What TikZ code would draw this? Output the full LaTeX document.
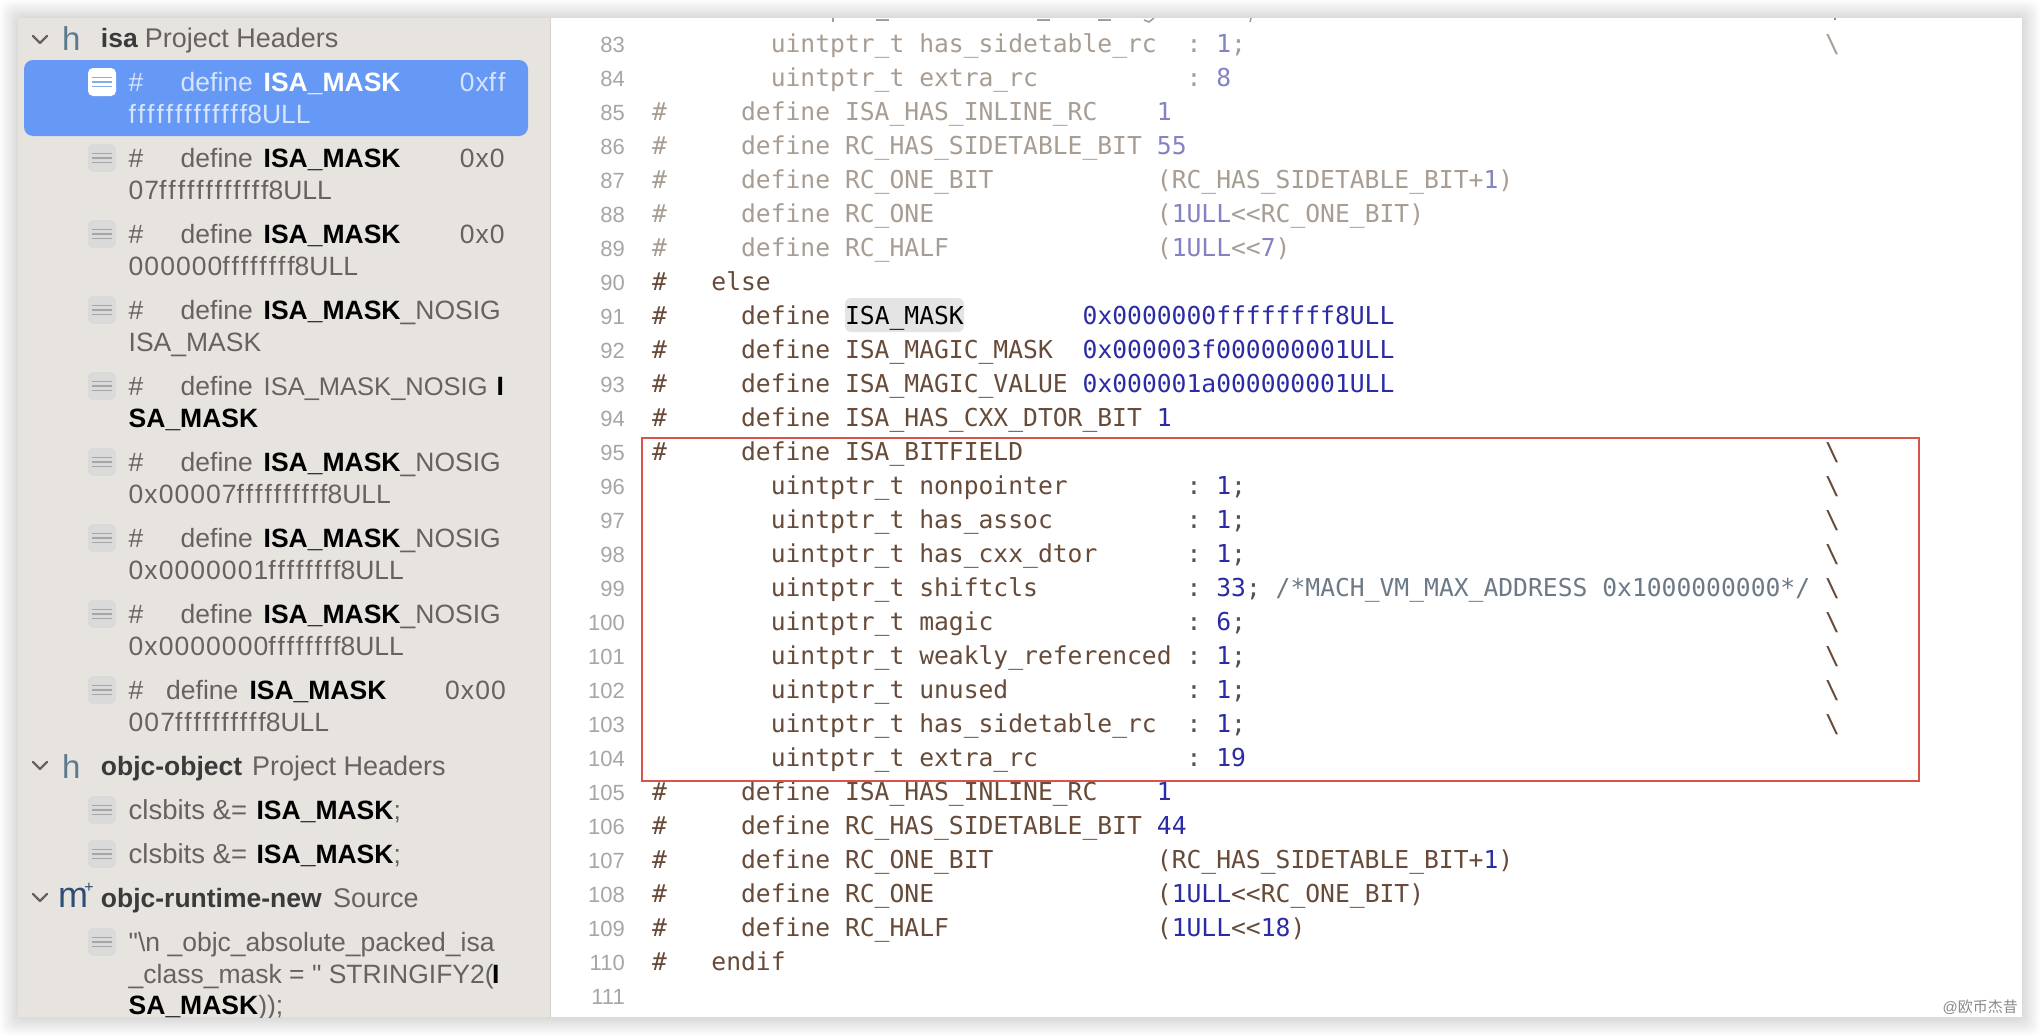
\documentclass[tikz,border=0pt]{standalone}
\usepackage{fontspec}
\setmainfont{Liberation Sans}
\setmonofont{DejaVu Sans Mono}
\newfontfamily\spaced[LetterSpace=9]{Liberation Sans}
\newfontfamily\digs[LetterSpace=4]{Liberation Sans}
\newfontfamily\plainsans{Liberation Sans}
\newfontfamily\cjk{Noto Sans CJK SC}
\definecolor{panel}{HTML}{E7E4E0}
\definecolor{selblue}{HTML}{6699F5}
\definecolor{sbtext}{HTML}{66625E}
\definecolor{seltext}{HTML}{D6E4FD}
\definecolor{hdtext}{HTML}{3A3A3A}
\definecolor{iconbg}{HTML}{DADADA}
\definecolor{iconln}{HTML}{A6A6A6}
\definecolor{selln}{HTML}{86A9EE}
\definecolor{slatec}{HTML}{5C7A8E}
\definecolor{navyc}{HTML}{2E4E78}
\definecolor{brownc}{HTML}{674A38}
\definecolor{fadetxt}{HTML}{A89D93}
\definecolor{numc}{HTML}{2B2BA6}
\definecolor{fadenum}{HTML}{8282C4}
\definecolor{punct}{HTML}{55504C}
\definecolor{commc}{HTML}{6C7986}
\definecolor{lnno}{HTML}{A6A6A6}
\definecolor{boxred}{HTML}{D9534A}
\definecolor{hilite}{HTML}{E4E4E4}
\definecolor{wmark}{HTML}{8A8A8A}
\tikzset{
  sbt/.style={anchor=base west,inner sep=0pt,text=sbtext,font=\fontsize{26.5}{32}\selectfont},
  sel/.style={sbt,text=seltext},
  hd/.style={sbt,text=hdtext,font=\fontsize{26.5}{32}\selectfont\bfseries},
  hdg/.style={sbt,font=\fontsize{27}{32}\selectfont},
  code/.style={anchor=base west,inner sep=0pt,text=brownc,font=\fontsize{24.66}{30}\ttfamily},
  lno/.style={anchor=base east,inner sep=0pt,text=lnno,font=\fontsize{22}{26}\selectfont},
  iconh/.style={anchor=base west,inner sep=0pt,text=slatec,font=\fontsize{33}{36}\selectfont},
}
\newcommand\Bd[1]{{\bfseries\color{black}#1}}
\newcommand\Bw[1]{{\bfseries\color{white}#1}}
\newcommand\Fx[1]{{\spaced #1}}
\newcommand\Dg[1]{{\digs #1}}
\newcommand\Cl[4][]{\node[code,#1] at ({651.8+14.85*#3},{460.2+34*(#2-95)}) {#4};}
\newcommand\Bs[2][brownc]{\node[code,text=#1] at ({651.8+14.85*79},{460.2+34*(#2-95)}) {\textbackslash};}
\newcommand\Ic[1]{\fill[iconbg,rounded corners=5pt] (88,#1) rectangle (116,#1+28);
  \draw[iconln,line width=1.2pt] (92,#1+9.7)--(112,#1+9.7) (92,#1+14)--(112,#1+14) (92,#1+18.3)--(112,#1+18.3);}
\newcommand\Chev[1]{\draw[sbtext,line width=2.4pt,line cap=round,line join=round] (33,#1)--(40,#1+7)--(47,#1);}
\catcode`\_=12
\begin{document}
\begin{tikzpicture}[x=1pt,y=-1pt]
\useasboundingbox (0,0) rectangle (2040,1036);
\fill[white] (0,0) rectangle (2040,1036);
% window shadow
\foreach \i in {18,17,...,1}{
  \fill[black,opacity=0.009,rounded corners=8pt] ({18-\i},{18-\i}) rectangle ({2022+\i},{1018+\i});
}
\begin{scope}
\clip (18,18) rectangle (2022,1017);
\fill[white] (18,18) rectangle (2022,1017);
\fill[panel] (18,18) rectangle (550,1017);
\draw[black!18,line width=1pt] (550,18)--(550,1017);

% ---- sidebar ----
\Chev{36}
\node[iconh] at (62,50) {h};
\node[hd] at (100.7,47) {isa};
\node[hdg] at (144.6,47) {Project Headers};

\fill[selblue,rounded corners=9pt] (24,60) rectangle (528,136);
\fill[white,rounded corners=5pt] (88,68) rectangle (116,96);
\draw[selln,line width=1.2pt] (92,77.7)--(112,77.7) (92,82)--(112,82) (92,86.3)--(112,86.3);
\node[sel] at (128.5,91) {\#};
\node[sel] at (180.5,91) {define};
\node[sel] at (263.5,91) {\Bw{ISA_MASK}};
\node[sel] at (459.6,91) {\Dg{0x}\Fx{ff}};
\node[sel] at (128.5,123) {\Fx{fffffffffffff}8ULL};

% row 2
\Ic{144}
\node[sbt] at (128.5,167) {\#};
\node[sbt] at (180.5,167) {define};
\node[sbt] at (263.5,167) {\Bd{ISA_MASK}};
\node[sbt] at (459.6,167) {\Dg{0x0}};
\node[sbt] at (128.5,199) {\Dg{07}\Fx{ffffffffffff}8ULL};
% row 3
\Ic{220}
\node[sbt] at (128.5,243) {\#};
\node[sbt] at (180.5,243) {define};
\node[sbt] at (263.5,243) {\Bd{ISA_MASK}};
\node[sbt] at (459.6,243) {\Dg{0x0}};
\node[sbt] at (128.5,275) {\Dg{000000}\Fx{ffffffff}8ULL};
% row 4
\Ic{296}
\node[sbt] at (128.5,319) {\#};
\node[sbt] at (180.5,319) {define};
\node[sbt] at (263.5,319) {\Bd{ISA_MASK}_NOSIG};
\node[sbt] at (128.5,351) {ISA_MASK};
% row 5
\Ic{372}
\node[sbt] at (128.5,395) {\#};
\node[sbt] at (180.5,395) {define};
\node[sbt,font=\fontsize{25.5}{32}\selectfont] at (263.5,395) {ISA_MASK_NOSIG};
\node[sbt] at (496.4,395) {\Bd{I}};
\node[sbt] at (128.5,427) {\Bd{SA_MASK}};
% row 6
\Ic{448}
\node[sbt] at (128.5,471) {\#};
\node[sbt] at (180.5,471) {define};
\node[sbt] at (263.5,471) {\Bd{ISA_MASK}_NOSIG};
\node[sbt] at (128.5,503) {\Dg{0x00007}\Fx{ffffffffff}8ULL};
% row 7
\Ic{524}
\node[sbt] at (128.5,547) {\#};
\node[sbt] at (180.5,547) {define};
\node[sbt] at (263.5,547) {\Bd{ISA_MASK}_NOSIG};
\node[sbt] at (128.5,579) {\Dg{0x0000001}\Fx{ffffffff}8ULL};
% row 8
\Ic{600}
\node[sbt] at (128.5,623) {\#};
\node[sbt] at (180.5,623) {define};
\node[sbt] at (263.5,623) {\Bd{ISA_MASK}_NOSIG};
\node[sbt] at (128.5,655) {\Dg{0x0000000}\Fx{ffffffff}8ULL};
% row 9
\Ic{676}
\node[sbt] at (128.5,699) {\#};
\node[sbt] at (166,699) {define};
\node[sbt] at (249.3,699) {\Bd{ISA_MASK}};
\node[sbt] at (445,699) {\Dg{0x00}};
\node[sbt] at (128.5,731) {\Dg{007}\Fx{ffffffffff}8ULL};

% objc-object
\Chev{762}
\node[iconh] at (62,778) {h};
\node[hd] at (100.7,775) {objc-object};
\node[hdg] at (251.8,775) {Project Headers};
\Ic{796}
\node[sbt,font=\fontsize{27.5}{32}\selectfont] at (128.5,819) {clsbits \&=};
\node[sbt] at (256.4,819) {\Bd{ISA_MASK};};
\Ic{840}
\node[sbt,font=\fontsize{27.5}{32}\selectfont] at (128.5,863) {clsbits \&=};
\node[sbt] at (256.4,863) {\Bd{ISA_MASK};};

% objc-runtime-new
\Chev{894}
\node[iconh,text=navyc,font=\fontsize{36}{38}\selectfont] at (58,907) {m};
\node[anchor=center,inner sep=0pt,text=navyc,font=\fontsize{16}{18}\selectfont] at (89,888) {+};
\node[hd] at (100.7,907) {objc-runtime-new};
\node[hdg] at (332.9,907) {Source};
\Ic{928}
\node[sbt] at (128.5,951) {{\plainsans "}\textbackslash n _objc_absolute_packed_isa};
\node[sbt] at (128.5,983) {_class_mask = {\plainsans "} STRINGIFY2(};
\node[sbt] at (492,983) {\Bd{I}};
\node[sbt] at (128.5,1014) {\Bd{SA_MASK}));};

% ---- editor ----
\fill[hilite,rounded corners=6pt] (845,298) rectangle (964,332);

% line 82 is cut by the window edge: only its lower ends show
\draw[fadetxt,line width=1.6pt] (833,18)--(833,22) (876,20)--(889,20) (1037,20)--(1050,20) (1098,20)--(1111,20);
\draw[fadetxt,line width=1.6pt] (1144,20)--(1149,22)--(1154,18) (1251,18)--(1250,22);
\fill[wmark] (1834,18) rectangle (1836,20);

\foreach \n in {83,...,111}{
  \node[lno] at (625,{460.2+34*(\n-95)}) {\n};
}

\tikzset{code/.append style={text=fadetxt}}
\Cl{83}{8}{uintptr_t has_sidetable_rc}
\Cl{83}{36}{:}
\Cl[text=fadenum]{83}{38}{1}
\Cl{83}{39}{;}
\Bs[fadetxt]{83}
\Cl{84}{8}{uintptr_t extra_rc}
\Cl{84}{36}{:}
\Cl[text=fadenum]{84}{38}{8}
\Cl{85}{0}{\#}
\Cl{85}{6}{define ISA_HAS_INLINE_RC}
\Cl[text=fadenum]{85}{34}{1}
\Cl{86}{0}{\#}
\Cl{86}{6}{define RC_HAS_SIDETABLE_BIT}
\Cl[text=fadenum]{86}{34}{55}
\Cl{87}{0}{\#}
\Cl{87}{6}{define RC_ONE_BIT}
\Cl{87}{34}{(RC_HAS_SIDETABLE_BIT+\textcolor{fadenum}{1})}
\Cl{88}{0}{\#}
\Cl{88}{6}{define RC_ONE}
\Cl{88}{34}{(\textcolor{fadenum}{1ULL}<{}<RC_ONE_BIT)}
\Cl{89}{0}{\#}
\Cl{89}{6}{define RC_HALF}
\Cl{89}{34}{(\textcolor{fadenum}{1ULL}<{}<\textcolor{fadenum}{7})}
\tikzset{code/.append style={text=brownc}}
\Cl{90}{0}{\#}
\Cl{90}{4}{else}
\Cl{91}{0}{\#}
\Cl{91}{6}{define}
\Cl[text=black]{91}{13}{ISA_MASK}
\Cl[text=numc]{91}{29}{0x0000000ffffffff8ULL}
\Cl{92}{0}{\#}
\Cl{92}{6}{define ISA_MAGIC_MASK}
\Cl[text=numc]{92}{29}{0x000003f000000001ULL}
\Cl{93}{0}{\#}
\Cl{93}{6}{define ISA_MAGIC_VALUE}
\Cl[text=numc]{93}{29}{0x000001a000000001ULL}
\Cl{94}{0}{\#}
\Cl{94}{6}{define ISA_HAS_CXX_DTOR_BIT}
\Cl[text=numc]{94}{34}{1}
\Cl{95}{0}{\#}
\Cl{95}{6}{define ISA_BITFIELD}
\Bs{95}
\foreach \ln/\nm/\v/\sc in {96/nonpointer/1/;,97/has_assoc/1/;,98/has_cxx_dtor/1/;,99/shiftcls/33/;,100/magic/6/;,101/weakly_referenced/1/;,102/unused/1/;,103/has_sidetable_rc/1/;}{
  \Cl{\ln}{8}{uintptr_t \nm}
  \Cl[text=punct]{\ln}{36}{:}
  \Cl[text=numc]{\ln}{38}{\v\textcolor{punct}{\sc}}
  \Bs{\ln}
}
\Cl[text=commc]{99}{42}{/*MACH_VM_MAX_ADDRESS 0x1000000000*/}
\Cl{104}{8}{uintptr_t extra_rc}
\Cl[text=punct]{104}{36}{:}
\Cl[text=numc]{104}{38}{19}
\Cl{105}{0}{\#}
\Cl{105}{6}{define ISA_HAS_INLINE_RC}
\Cl[text=numc]{105}{34}{1}
\Cl{106}{0}{\#}
\Cl{106}{6}{define RC_HAS_SIDETABLE_BIT}
\Cl[text=numc]{106}{34}{44}
\Cl{107}{0}{\#}
\Cl{107}{6}{define RC_ONE_BIT}
\Cl{107}{34}{(RC_HAS_SIDETABLE_BIT+\textcolor{numc}{1})}
\Cl{108}{0}{\#}
\Cl{108}{6}{define RC_ONE}
\Cl{108}{34}{(\textcolor{numc}{1ULL}<{}<RC_ONE_BIT)}
\Cl{109}{0}{\#}
\Cl{109}{6}{define RC_HALF}
\Cl{109}{34}{(\textcolor{numc}{1ULL}<{}<\textcolor{numc}{18})}
\Cl{110}{0}{\#}
\Cl{110}{4}{endif}

\draw[boxred,line width=2pt] (642,438) rectangle (1919,781);
\node[anchor=base east,inner sep=0pt,text=wmark,font=\fontsize{15}{18}\selectfont] at (2018,1012) {@{\cjk 欧币杰昔}};
\end{scope}
\end{tikzpicture}
\end{document}
